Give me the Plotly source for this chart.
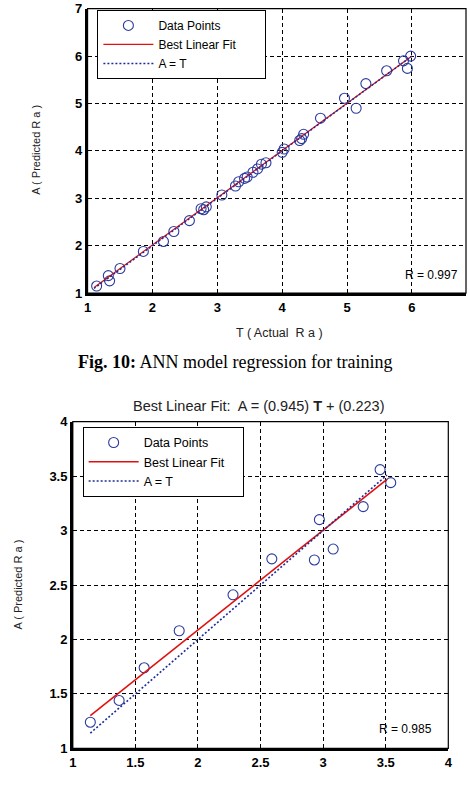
import plotly.graph_objects as go

# ---------------- data ----------------
# Training (Fig. 10)
train_T = [1.14, 1.32, 1.34, 1.50, 1.86, 2.17, 2.33, 2.57, 2.75, 2.79, 2.83, 3.07, 3.28, 3.33,
           3.42, 3.46, 3.55, 3.62, 3.68, 3.75, 4.00, 4.03, 4.27, 4.30, 4.33, 4.59, 4.96, 5.14,
           5.29, 5.61, 5.87, 5.93, 5.98]
train_A = [1.15, 1.37, 1.26, 1.52, 1.88, 2.09, 2.30, 2.53, 2.78, 2.76, 2.82, 3.07, 3.26, 3.35,
           3.42, 3.45, 3.55, 3.62, 3.72, 3.75, 3.97, 4.04, 4.22, 4.26, 4.35, 4.69, 5.11, 4.90,
           5.42, 5.69, 5.90, 5.74, 6.00]
train_fit_x = [1.10, 6.00]
train_fit_y = [1.12, 6.00]
train_eq_x = [1.10, 6.00]
train_R = "R = 0.997"

# Validation (second figure)
val_T = [1.14, 1.37, 1.57, 1.85, 2.28, 2.59, 2.93, 2.97, 3.08, 3.32, 3.455, 3.54]
val_A = [1.24, 1.44, 1.74, 2.08, 2.41, 2.74, 2.73, 3.10, 2.83, 3.22, 3.56, 3.44]
val_fit_x = [1.14, 3.51]
val_fit_y = [1.30, 3.47]
val_eq_x = [1.14, 3.51]
val_R = "R = 0.985"
val_title = "Best Linear Fit:  A = (0.945) <b>T</b> + (0.223)"

legend_names = ["Data Points", "Best Linear Fit", "A = T"]
caption = "<b>Fig. 10:</b> ANN model regression for training"

W, H = 470, 790
def px(x): return x / W
def py(y): return 1 - y / H

MK = "#2c3c9c"
RED = "#e01010"
BLUE = "#1c2c98"
FONT = "Liberation Sans, Arial, sans-serif"
EM = "\u2003"

fig = go.Figure()

# top plot traces
fig.add_trace(go.Scatter(x=train_T, y=train_A, mode="markers", name=legend_names[0],
                         marker=dict(symbol="circle-open", size=10, color=MK, line=dict(width=1.1, color=MK)),
                         xaxis="x", yaxis="y", legend="legend"))
fig.add_trace(go.Scatter(x=train_fit_x, y=train_fit_y, mode="lines", name=legend_names[1] + EM * 2,
                         line=dict(color=RED, width=1.2), xaxis="x", yaxis="y", legend="legend"))
fig.add_trace(go.Scatter(x=train_eq_x, y=train_eq_x, mode="lines", name=legend_names[2],
                         line=dict(color=BLUE, width=1.5, dash="2px,2px"), xaxis="x", yaxis="y", legend="legend"))

# bottom plot traces
fig.add_trace(go.Scatter(x=val_T, y=val_A, mode="markers", name=legend_names[0],
                         marker=dict(symbol="circle-open", size=10, color=MK, line=dict(width=1.1, color=MK)),
                         xaxis="x2", yaxis="y2", legend="legend2"))
fig.add_trace(go.Scatter(x=val_fit_x, y=val_fit_y, mode="lines", name=legend_names[1] + EM,
                         line=dict(color=RED, width=1.6), xaxis="x2", yaxis="y2", legend="legend2"))
fig.add_trace(go.Scatter(x=val_eq_x, y=val_eq_x, mode="lines", name=legend_names[2],
                         line=dict(color=BLUE, width=1.6, dash="2px,2px"), xaxis="x2", yaxis="y2", legend="legend2"))

tickfont = dict(family=FONT, size=13, color="black", weight="bold")
ax_common = dict(showgrid=True, gridcolor="black", griddash="4px,3px", gridwidth=1,
                 showline=True, linecolor="black", linewidth=2.5, mirror=False,
                 ticks="inside", ticklen=4, tickcolor="black", tickfont=tickfont,
                 zeroline=False, fixedrange=True)

fig.update_layout(
    width=W, height=H, margin=dict(l=0, r=0, t=0, b=0),
    paper_bgcolor="white", plot_bgcolor="white",
    xaxis=dict(domain=[px(85), 1.0], range=[1, 1 + 385 / 66], tickvals=[1, 2, 3, 4, 5, 6],
               anchor="y", **ax_common),
    yaxis=dict(domain=[py(291.7), py(1.7)], range=[1, 7], tickvals=[1, 2, 3, 4, 5, 6, 7],
               anchor="x", **ax_common),
    xaxis2=dict(domain=[px(70), px(452)], range=[1, 4], dtick=0.5, anchor="y2", **ax_common),
    yaxis2=dict(domain=[py(755.7), py(422.7)], range=[1, 4], dtick=0.5, anchor="x2", **ax_common),
    legend=dict(x=px(95), y=py(3), xanchor="left", yanchor="top", bgcolor="white",
                bordercolor="black", borderwidth=1, font=dict(family=FONT, size=12, color="black"),
                itemwidth=50, tracegroupgap=0, itemclick=False),
    legend2=dict(x=px(80), y=py(428), xanchor="left", yanchor="top", bgcolor="white",
                 bordercolor="black", borderwidth=1, font=dict(family=FONT, size=12.5, color="black"),
                 itemwidth=50, tracegroupgap=0, itemclick=False),
    showlegend=True,
)

# thin frame (top/right) for both plots
for xr, yr in [("x domain", "y domain"), ("x2 domain", "y2 domain")]:
    fig.add_shape(type="rect", xref=xr, yref=yr, x0=0, x1=1, y0=0, y1=1,
                  line=dict(color="black", width=1.2), layer="above")

ann_font = dict(family=FONT, size=11, color="#222")
annotations = [
    dict(x=px(280), y=py(332), text="T ( Actual  R a )", font=dict(family=FONT, size=12.5, color="#222"),
         xanchor="center", yanchor="middle"),
    dict(x=px(33), y=py(145), text="A ( Predicted R a )", font=ann_font, textangle=-90,
         xanchor="center", yanchor="middle"),
    dict(x=px(14), y=py(589), text="A ( Predicted R a )", font=ann_font, textangle=-90,
         xanchor="center", yanchor="middle"),
    dict(x=px(435), y=py(273), text=train_R, font=dict(family=FONT, size=12, color="black"),
         xanchor="center", yanchor="middle"),
    dict(x=px(408), y=py(736), text=val_R, font=dict(family=FONT, size=12, color="black"),
         xanchor="center", yanchor="middle"),
    dict(x=px(235), y=py(362), text=caption,
         font=dict(family="Liberation Serif, Times New Roman, serif", size=18, color="black"),
         xanchor="center", yanchor="middle"),
    dict(x=px(259), y=py(407), text=val_title, font=dict(family=FONT, size=14.5, color="#222"),
         xanchor="center", yanchor="middle"),
]
for a in annotations:
    a.update(xref="paper", yref="paper", showarrow=False)
fig.update_layout(annotations=annotations)

fig.write_html("out.html")
